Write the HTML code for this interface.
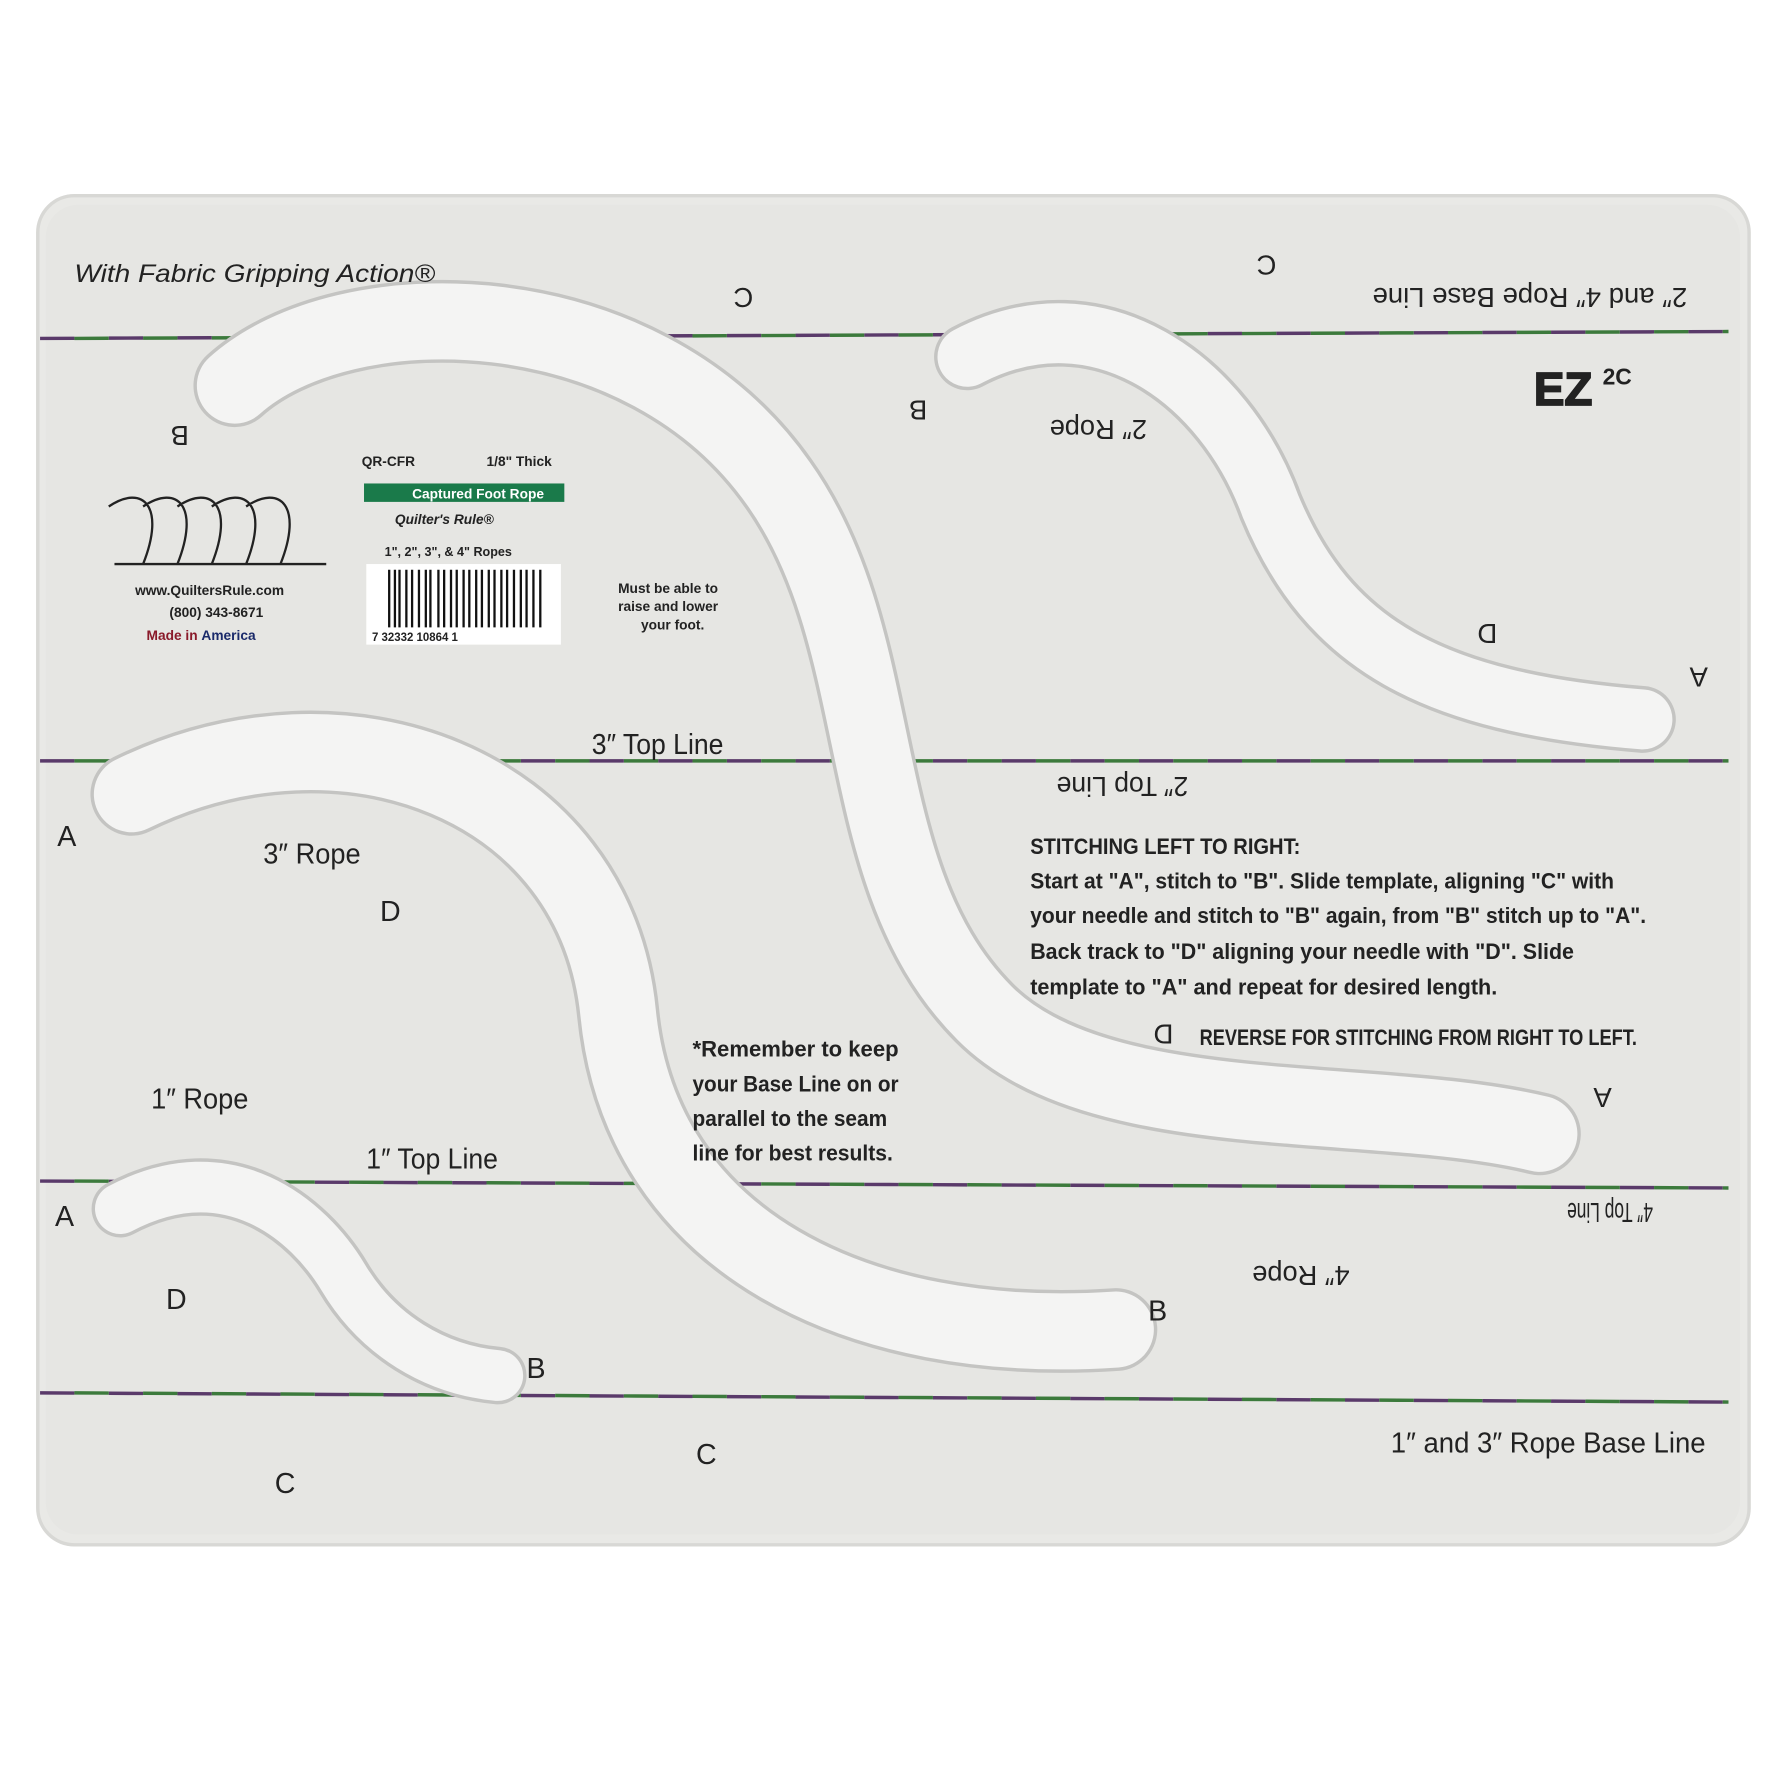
<!DOCTYPE html>
<html><head><meta charset="utf-8"><style>
html,body{margin:0;padding:0;background:#fff;}
svg{display:block;}
text{font-family:"Liberation Sans",sans-serif;fill:#222;}
</style></head><body>
<svg width="1780" height="1790" viewBox="0 0 1555 1555" preserveAspectRatio="none" xmlns="http://www.w3.org/2000/svg">
<rect x="0" y="0" width="1555" height="1555" fill="#ffffff"/>
<rect x="33" y="170" width="1495" height="1172" rx="32" fill="#e9e9e6" stroke="#d8d8d5" stroke-width="3"/>
<rect x="40" y="178" width="1480" height="1155" rx="28" fill="#e6e6e3"/>
<g stroke-width="3">
<line x1="35" y1="294" x2="1510" y2="288" stroke="#5a3a6a" stroke-dasharray="30 30"/>
<line x1="65" y1="294" x2="1510" y2="288" stroke="#3c7a3c" stroke-dasharray="30 30"/>
<line x1="35" y1="661" x2="1510" y2="661" stroke="#5a3a6a" stroke-dasharray="30 30"/>
<line x1="65" y1="661" x2="1510" y2="661" stroke="#3c7a3c" stroke-dasharray="30 30"/>
<line x1="35" y1="1026" x2="1510" y2="1032" stroke="#5a3a6a" stroke-dasharray="30 30"/>
<line x1="65" y1="1026" x2="1510" y2="1032" stroke="#3c7a3c" stroke-dasharray="30 30"/>
<line x1="35" y1="1210" x2="1510" y2="1218" stroke="#5a3a6a" stroke-dasharray="30 30"/>
<line x1="65" y1="1210" x2="1510" y2="1218" stroke="#3c7a3c" stroke-dasharray="30 30"/>
</g>
<g fill="none" stroke-linecap="round">
<g stroke="#c4c4c2">
<path d="M 205 335 C 300 250, 560 250, 680 420 C 780 560, 740 760, 860 880 C 960 980, 1200 950, 1345 985" stroke-width="72"/>
<path d="M 115 690 C 300 600, 520 680, 540 880 C 560 1080, 750 1170, 975 1155" stroke-width="72"/>
<path d="M 845 310 C 960 250, 1070 330, 1110 440 C 1160 560, 1250 610, 1435 625" stroke-width="58"/>
<path d="M 105 1050 C 200 1000, 270 1060, 300 1110 C 330 1160, 380 1190, 435 1195" stroke-width="50"/>
</g>
<g stroke="#f4f4f3">
<path d="M 205 335 C 300 250, 560 250, 680 420 C 780 560, 740 760, 860 880 C 960 980, 1200 950, 1345 985" stroke-width="66"/>
<path d="M 115 690 C 300 600, 520 680, 540 880 C 560 1080, 750 1170, 975 1155" stroke-width="66"/>
<path d="M 845 310 C 960 250, 1070 330, 1110 440 C 1160 560, 1250 610, 1435 625" stroke-width="52"/>
<path d="M 105 1050 C 200 1000, 270 1060, 300 1110 C 330 1160, 380 1190, 435 1195" stroke-width="44"/>
</g>
</g>
<text x="65" y="245" font-size="22" font-style="italic" font-family="Liberation Serif,serif" textLength="315" lengthAdjust="spacingAndGlyphs">With Fabric Gripping Action®</text>
<g font-size="25">
<text x="517" y="655" textLength="115" lengthAdjust="spacingAndGlyphs">3″ Top Line</text>
<text x="230" y="750" textLength="85" lengthAdjust="spacingAndGlyphs">3″ Rope</text>
<text x="132" y="963" textLength="85" lengthAdjust="spacingAndGlyphs">1″ Rope</text>
<text x="320" y="1015" textLength="115" lengthAdjust="spacingAndGlyphs">1″ Top Line</text>
<text x="1215" y="1262" textLength="275" lengthAdjust="spacingAndGlyphs">1″ and 3″ Rope Base Line</text>
<text x="50" y="735">A</text><text x="332" y="800">D</text>
<text x="48" y="1065">A</text><text x="145" y="1137">D</text>
<text x="460" y="1197">B</text><text x="240" y="1297">C</text>
<text x="608" y="1272">C</text><text x="1003" y="1147">B</text>
</g>
<g font-size="19" font-weight="bold">
<text x="900" y="742" textLength="236" lengthAdjust="spacingAndGlyphs">STITCHING LEFT  TO RIGHT:</text>
<text x="900" y="772" textLength="510" lengthAdjust="spacingAndGlyphs">Start at "A", stitch to "B". Slide template, aligning "C" with</text>
<text x="900" y="802" textLength="538" lengthAdjust="spacingAndGlyphs">your needle and stitch to "B" again, from "B" stitch up to "A".</text>
<text x="900" y="833" textLength="475" lengthAdjust="spacingAndGlyphs">Back track to "D" aligning your needle with "D". Slide</text>
<text x="900" y="864" textLength="408" lengthAdjust="spacingAndGlyphs">template to "A" and repeat for desired length.</text>
<text x="1048" y="908" textLength="382" lengthAdjust="spacingAndGlyphs">REVERSE FOR STITCHING FROM RIGHT TO LEFT.</text>
<text x="605" y="918" textLength="180" lengthAdjust="spacingAndGlyphs">*Remember to keep</text>
<text x="605" y="948" textLength="180" lengthAdjust="spacingAndGlyphs">your Base Line on or</text>
<text x="605" y="978" textLength="170" lengthAdjust="spacingAndGlyphs">parallel to the seam</text>
<text x="605" y="1008" textLength="175" lengthAdjust="spacingAndGlyphs">line for best results.</text>
</g>
<g font-size="24">
<text transform="rotate(180 1337 260)" x="1200" y="270" textLength="275" lengthAdjust="spacingAndGlyphs">2″ and 4″ Rope Base Line</text>
<text transform="rotate(180 960 375)" x="918" y="385" textLength="85" lengthAdjust="spacingAndGlyphs">2″ Rope</text>
<text transform="rotate(180 980 685)" x="922" y="695" textLength="115" lengthAdjust="spacingAndGlyphs">2″ Top Line</text>
<text transform="rotate(180 1407 1055)" x="1370" y="1065" textLength="75" lengthAdjust="spacingAndGlyphs">4″ Top Line</text>
<text transform="rotate(180 1137 1110)" x="1095" y="1120" textLength="85" lengthAdjust="spacingAndGlyphs">4″ Rope</text>
<text transform="rotate(180 1105 232)" x="1095" y="242">C</text>
<text transform="rotate(180 648 260)" x="638" y="270">C</text>
<text transform="rotate(180 155 380)" x="145" y="390">B</text>
<text transform="rotate(180 800 358)" x="790" y="368">B</text>
<text transform="rotate(180 1298 552)" x="1288" y="562">D</text>
<text transform="rotate(180 1482 590)" x="1472" y="600">A</text>
<text transform="rotate(180 1015 900)" x="1005" y="910">D</text>
<text transform="rotate(180 1398 955)" x="1388" y="965">A</text>
</g>
<g font-size="12" font-weight="bold" font-family="Liberation Sans,sans-serif">
<text x="316" y="405">QR-CFR</text><text x="425" y="405">1/8" Thick</text>
<rect x="318" y="420" width="175" height="16" fill="#1a7a4a"/>
<text x="360" y="433" style="fill:#fff">Captured Foot Rope</text>
<text x="345" y="455" font-style="italic">Quilter's Rule®</text>
<text x="336" y="483" font-size="11">1", 2", 3", &amp; 4" Ropes</text>
<rect x="320" y="490" width="170" height="70" fill="#fff"/>
<g stroke="#111" stroke-width="2">
<path d="M340 495v50M345 495v50M349 495v50M355 495v50M360 495v50M366 495v50M372 495v50M376 495v50M383 495v50M388 495v50M394 495v50M399 495v50M405 495v50M410 495v50M416 495v50M421 495v50M427 495v50M432 495v50M438 495v50M443 495v50M449 495v50M455 495v50M460 495v50M466 495v50M472 495v50"/>
</g>
<text x="325" y="557" font-size="10">7  32332  10864  1</text>
<text x="118" y="517">www.QuiltersRule.com</text>
<text x="148" y="536">(800) 343-8671</text>
<text x="128" y="556" style="fill:#8a1a2a">Made in <tspan style="fill:#1a2a6a">America</tspan></text>
<text x="540" y="515" font-size="12">Must be able to</text>
<text x="540" y="531" font-size="12">raise and lower</text>
<text x="560" y="547" font-size="12">your foot.</text>
</g>
<path d="M95 440 C125 420,145 440,125 490 M125 440 C155 420,175 440,155 490 M155 440 C185 420,205 440,185 490 M185 440 C215 420,235 440,215 490 M215 440 C245 420,265 440,245 490 M100 490 H285" fill="none" stroke="#222" stroke-width="2"/>
<text x="1340" y="352" font-size="40" font-family="Liberation Serif,serif" font-weight="bold" fill="#fff" stroke="#222" stroke-width="1.5">EZ</text>
<text x="1400" y="334" font-size="20" font-family="Liberation Serif,serif" font-weight="bold">2C</text>
</svg>
</body></html>
